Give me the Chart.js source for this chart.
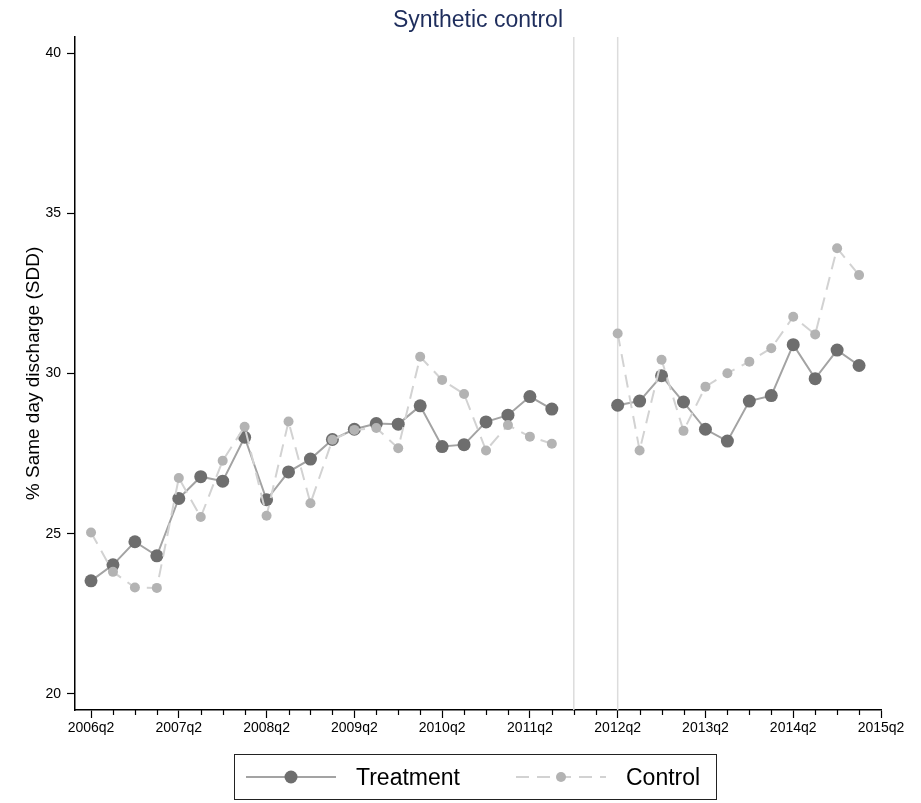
<!DOCTYPE html>
<html>
<head>
<meta charset="utf-8">
<title>Synthetic control</title>
<script src="https://cdn.jsdelivr.net/npm/chart.js@4.4.1/dist/chart.umd.min.js"></script>
<style>
  html, body { margin: 0; padding: 0; background: #fff; }
  #wrap { position: relative; width: 921px; height: 803px; font-family: "Liberation Sans", Arial, sans-serif; }
  #chart { position: absolute; left: 0; top: 0; }
  #title { position: absolute; left: 75px; width: 806px; top: 8px; line-height: 23px; text-align: center; font-size: 23px; color: #1e2d5c; }
  #legend { position: absolute; left: 234px; top: 754px; width: 481px; height: 44px; border: 1.3px solid #222; }
  .item { position: absolute; top: 0; height: 44px; }
  .item svg { position: absolute; left: 0; top: 0; }
  .item span { position: absolute; top: 10px; line-height: 24px; font-size: 23px; color: #000; white-space: nowrap; }
</style>
</head>
<body>
<div id="wrap">
  <canvas id="chart" width="921" height="803"></canvas>
  <div id="title">Synthetic control</div>
  <div id="legend">
    <div class="item" style="left:10px">
      <svg width="100" height="44"><line x1="1" y1="22" x2="91" y2="22" stroke="#a3a3a3" stroke-width="2"/><circle cx="46" cy="22" r="6.5" fill="#6e6e6e"/></svg>
      <span style="left:111px">Treatment</span>
    </div>
    <div class="item" style="left:280px">
      <svg width="100" height="44"><line x1="1" y1="22" x2="91" y2="22" stroke="#d2d2d2" stroke-width="2" stroke-dasharray="13 8"/><circle cx="46" cy="22" r="5" fill="#b3b3b3"/></svg>
      <span style="left:111px">Control</span>
    </div>
  </div>
</div>
<script>
// quarters with observations (2006q2 .. 2015q1)
const quarters = [
  '2006q2', '2006q3', '2006q4', '2007q1', '2007q2', '2007q3', '2007q4', '2008q1',
  '2008q2', '2008q3', '2008q4', '2009q1', '2009q2', '2009q3', '2009q4', '2010q1',
  '2010q2', '2010q3', '2010q4', '2011q1', '2011q2', '2011q3', '2011q4', '2012q1',
  '2012q2', '2012q3', '2012q4', '2013q1', '2013q2', '2013q3', '2013q4', '2014q1',
  '2014q2', '2014q3', '2014q4', '2015q1'
];

// % same day discharge, null = no data
const treatment = [
  23.53, 24.03, 24.75, 24.31, 26.10, 26.78, 26.64, 28.01,
  26.06, 26.93, 27.33, 27.94, 28.26, 28.44, 28.42, 28.99,
  27.72, 27.78, 28.49, 28.70, 29.28, 28.89, null, null,
  29.01, 29.14, 29.93, 29.11, 28.26, 27.89, 29.14, 29.31,
  30.90, 29.84, 30.73, 30.25
];
const control = [
  25.04, 23.81, 23.32, 23.31, 26.74, 25.52, 27.28, 28.34,
  25.56, 28.50, 25.95, 27.93, 28.24, 28.30, 27.67, 30.52,
  29.80, 29.36, 27.60, 28.39, 28.03, 27.81, null, null,
  31.25, 27.60, 30.43, 28.21, 29.59, 30.01, 30.37, 30.79,
  31.77, 31.22, 33.91, 33.07
];

const xTickLabels = ['2006q2', '2007q2', '2008q2', '2009q2', '2010q2', '2011q2', '2012q2', '2013q2', '2014q2', '2015q2'];
const yTicks = [20, 25, 30, 35, 40];
const markerQuarters = ['2011q4', '2012q2'];

// quarter label -> position on the x scale (0 = 2006q2)
function qIndex(label) {
  const year = parseInt(label.slice(0, 4), 10);
  const q = parseInt(label.slice(5), 10);
  return (year - 2006) * 4 + (q - 2);
}

const toPoints = arr => arr.map((v, i) => ({ x: qIndex(quarters[i]), y: v }));

const quarterMarks = {
  id: 'quarterMarks',
  beforeDatasetsDraw(chart) {
    const { ctx, chartArea, scales } = chart;
    ctx.save();
    ctx.strokeStyle = '#dcdcdc';
    ctx.lineWidth = 1.5;
    markerQuarters.forEach(q => {
      const x = scales.x.getPixelForValue(qIndex(q));
      ctx.beginPath();
      ctx.moveTo(x, chartArea.top);
      ctx.lineTo(x, chartArea.bottom);
      ctx.stroke();
    });
    ctx.restore();
  },
  afterDraw(chart) {
    // minor ticks every quarter
    const { ctx, chartArea, scales } = chart;
    const last = qIndex(xTickLabels[xTickLabels.length - 1]);
    ctx.save();
    ctx.strokeStyle = '#000';
    ctx.lineWidth = 1.2;
    for (let i = 0; i <= last; i++) {
      if (i % 4 === 0) continue;
      const x = Math.round(scales.x.getPixelForValue(i)) + 0.5;
      ctx.beginPath();
      ctx.moveTo(x, chartArea.bottom);
      ctx.lineTo(x, chartArea.bottom + 5);
      ctx.stroke();
    }
    ctx.restore();
  }
};

const tickFont = { family: '"Liberation Sans", Arial, sans-serif', size: 14 };

new Chart(document.getElementById('chart').getContext('2d'), {
  type: 'line',
  data: {
    datasets: [
      {
        label: 'Treatment',
        data: toPoints(treatment),
        borderColor: '#a3a3a3',
        borderWidth: 2,
        pointRadius: 6.5,
        pointBackgroundColor: '#6e6e6e',
        pointBorderColor: '#6e6e6e',
        pointBorderWidth: 0,
        spanGaps: false,
        tension: 0,
        order: 2
      },
      {
        label: 'Control',
        data: toPoints(control),
        borderColor: '#d2d2d2',
        borderWidth: 2,
        borderDash: [13, 8],
        pointRadius: 5,
        pointBackgroundColor: '#b3b3b3',
        pointBorderColor: '#b3b3b3',
        pointBorderWidth: 0,
        spanGaps: false,
        tension: 0,
        order: 1
      }
    ]
  },
  options: {
    responsive: false,
    animation: false,
    layout: { padding: { top: 37, right: 40, bottom: 0, left: 22 } },
    plugins: {
      legend: { display: false },
      title: { display: false },
      tooltip: { enabled: false }
    },
    scales: {
      x: {
        type: 'linear',
        min: -0.73,
        max: qIndex(xTickLabels[xTickLabels.length - 1]),
        afterBuildTicks: scale => {
          scale.ticks = xTickLabels.map(l => ({ value: qIndex(l) }));
        },
        afterFit: scale => { scale.height = 93; },
        grid: { drawOnChartArea: false, drawTicks: true, tickLength: 8, color: '#000', tickWidth: 1.2 },
        border: { display: true, color: '#000', width: 1.5 },
        ticks: {
          font: tickFont,
          color: '#000',
          padding: 2,
          maxRotation: 0,
          autoSkip: false,
          callback: v => xTickLabels.find(l => qIndex(l) === v) || ''
        }
      },
      y: {
        min: 19.5,
        max: 40.5,
        afterBuildTicks: scale => {
          scale.ticks = yTicks.map(v => ({ value: v }));
        },
        afterFit: scale => { scale.width = 53; },
        grid: { drawOnChartArea: false, drawTicks: true, tickLength: 8, color: '#000', tickWidth: 1.2 },
        border: { display: true, color: '#000', width: 1.5 },
        ticks: { font: tickFont, color: '#000', padding: 6 },
        title: {
          display: true,
          text: '% Same day discharge (SDD)',
          color: '#000',
          padding: 0,
          font: { family: '"Liberation Sans", Arial, sans-serif', size: 19 }
        }
      }
    }
  },
  plugins: [quarterMarks]
});
</script>
</body>
</html>
